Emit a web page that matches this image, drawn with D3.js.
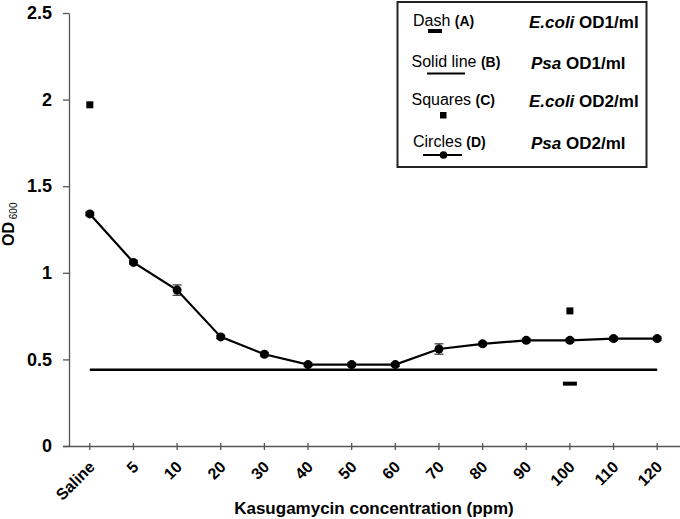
<!DOCTYPE html>
<html>
<head>
<meta charset="utf-8">
<script src="https://cdn.jsdelivr.net/npm/d3@7"></script>
<style>
  body { margin: 0; background: #fff; }
  svg { font-family: "Liberation Sans", Arial, sans-serif; }
</style>
</head>
<body>
<div id="chart"></div>
<script>
// categories on the x axis
var categories = ["Saline", "5", "10", "20", "30", "40", "50", "60", "70", "80", "90", "100", "110", "120"];
// Psa OD2/ml (circles, with error bars)
var psaOD2 = [1.34, 1.06, 0.90, 0.63, 0.53, 0.47, 0.47, 0.47, 0.56, 0.59, 0.61, 0.61, 0.62, 0.62];
var psaOD2Err = [0.01, 0.01, 0.03, 0.01, 0.01, 0.01, 0.01, 0.01, 0.03, 0.01, 0.01, 0.01, 0.01, 0.01];
// Psa OD1/ml (solid line)
var psaOD1 = [0.44, 0.44, 0.44, 0.44, 0.44, 0.44, 0.44, 0.44, 0.44, 0.44, 0.44, 0.44, 0.44, 0.44];
// E.coli OD2/ml (squares)
var ecoliOD2 = [{cat: "Saline", v: 1.97}, {cat: "100", v: 0.78}];
// E.coli OD1/ml (dash)
var ecoliOD1 = [{cat: "100", v: 0.36}];
var yTicks = [0, 0.5, 1, 1.5, 2, 2.5];

var legendRows = [
  {label: "Dash", key: "(A)", it: "E.coli", rest: " OD1/ml", sym: "dash"},
  {label: "Solid line", key: "(B)", it: "Psa", rest: " OD1/ml", sym: "line"},
  {label: "Squares", key: "(C)", it: "E.coli", rest: " OD2/ml", sym: "square"},
  {label: "Circles", key: "(D)", it: "Psa", rest: " OD2/ml", sym: "circle"}
];

var width = 680, height = 519;
var svg = d3.select("#chart").append("svg").attr("width", width).attr("height", height);

var xScale = d3.scaleBand().domain(categories).range([68, 679]);
var yScale = d3.scaleLinear().domain([0, 2.5]).range([446, 13]);
function cx(c) { return xScale(c) + xScale.bandwidth() / 2; }

var axisColor = "#555";

// y axis
var yAxisCall = d3.axisLeft(yScale).tickValues(yTicks).tickSize(6).tickSizeOuter(0)
  .tickFormat(function(d) { return d; });
var gy = svg.append("g").attr("transform", "translate(69,0)").call(yAxisCall);
gy.select(".domain").attr("stroke", axisColor).attr("stroke-width", 1.3);
gy.selectAll(".tick line").attr("stroke", axisColor).attr("stroke-width", 1.3);
gy.selectAll(".tick text").attr("x", -17).attr("font-size", 18).attr("font-weight", "bold")
  .attr("fill", "#000").attr("font-family", "Liberation Sans, Arial, sans-serif");

// x axis
var xAxisCall = d3.axisBottom(xScale).tickSize(4).tickSizeOuter(0);
var gx = svg.append("g").attr("transform", "translate(0,446)").call(xAxisCall);
gx.select(".domain").attr("stroke", axisColor).attr("stroke-width", 1.3)
  .attr("d", "M63,0.5H680");
gx.selectAll(".tick line").attr("stroke", axisColor).attr("stroke-width", 1.3).attr("y1", -3);
gx.selectAll(".tick text")
  .attr("font-size", 16).attr("font-weight", "bold").attr("fill", "#000")
  .attr("font-family", "Liberation Sans, Arial, sans-serif")
  .attr("text-anchor", "end").attr("y", 0).attr("dy", 0)
  .attr("transform", "translate(6,22) rotate(-45)");

// axis titles
svg.append("text")
  .attr("x", 374).attr("y", 514)
  .attr("text-anchor", "middle").attr("font-size", 17).attr("font-weight", "bold")
  .text("Kasugamycin concentration (ppm)");

var yt = svg.append("text").attr("transform", "translate(14,246) rotate(-90)");
yt.append("tspan").attr("font-size", 16).attr("font-weight", "bold").text("OD");
yt.append("tspan").attr("font-size", 10).attr("dy", 3).text(" 600");

// solid line (B)
var line = d3.line().x(function(d, i) { return cx(categories[i]); }).y(function(d) { return yScale(d); });
svg.append("path").datum(psaOD1).attr("d", line)
  .attr("fill", "none").attr("stroke", "#000").attr("stroke-width", 2.6);

// circles line (D)
svg.append("path").datum(psaOD2).attr("d", line)
  .attr("fill", "none").attr("stroke", "#000").attr("stroke-width", 2.2);

// error bars
var eb = svg.append("g").attr("stroke", "#333").attr("stroke-width", 1.2);
psaOD2.forEach(function(v, i) {
  var x = cx(categories[i]);
  var y1 = yScale(v - psaOD2Err[i]), y2 = yScale(v + psaOD2Err[i]);
  eb.append("line").attr("x1", x).attr("x2", x).attr("y1", y1).attr("y2", y2);
  eb.append("line").attr("x1", x - 4.5).attr("x2", x + 4.5).attr("y1", y1).attr("y2", y1);
  eb.append("line").attr("x1", x - 4.5).attr("x2", x + 4.5).attr("y1", y2).attr("y2", y2);
});

svg.selectAll(".dot").data(psaOD2).enter().append("circle")
  .attr("cx", function(d, i) { return cx(categories[i]); })
  .attr("cy", function(d) { return yScale(d); })
  .attr("r", 4.5).attr("fill", "#000");

// squares (C)
svg.selectAll(".sq").data(ecoliOD2).enter().append("rect")
  .attr("x", function(d) { return cx(d.cat) - 3.5; })
  .attr("y", function(d) { return yScale(d.v) - 3.5; })
  .attr("width", 7).attr("height", 7).attr("fill", "#000");

// dash (A)
svg.selectAll(".dash").data(ecoliOD1).enter().append("rect")
  .attr("x", function(d) { return cx(d.cat) - 7; })
  .attr("y", function(d) { return yScale(d.v) - 2; })
  .attr("width", 14).attr("height", 4).attr("fill", "#000");

// legend
var lg = svg.append("g");
lg.append("rect").attr("x", 397.5).attr("y", 2).attr("width", 249).attr("height", 165)
  .attr("fill", "#fff").attr("stroke", "#222").attr("stroke-width", 2);

var rowY = [26, 67, 105, 147];
legendRows.forEach(function(r, i) {
  var y = rowY[i];
  var t = lg.append("text").attr("x", i == 0 || i == 3 ? 413 : 411.5).attr("y", y);
  t.append("tspan").attr("font-size", 16).text(r.label + " ");
  t.append("tspan").attr("font-size", 14).attr("font-weight", "bold").text(r.key);

  var t2 = lg.append("text").attr("x", r.it == "Psa" ? 531 : 529).attr("y", y + 2)
    .attr("font-size", 17).attr("font-weight", "bold");
  t2.append("tspan").attr("font-style", "italic").text(r.it);
  t2.append("tspan").text(r.rest);

  if (r.sym == "dash") {
    lg.append("rect").attr("x", 428).attr("y", 29).attr("width", 14).attr("height", 4).attr("fill", "#000");
  } else if (r.sym == "line") {
    lg.append("line").attr("x1", 427).attr("x2", 465).attr("y1", 73.5).attr("y2", 73.5)
      .attr("stroke", "#000").attr("stroke-width", 2);
  } else if (r.sym == "square") {
    lg.append("rect").attr("x", 440).attr("y", 112).attr("width", 6.5).attr("height", 6.5).attr("fill", "#000");
  } else {
    lg.append("line").attr("x1", 423).attr("x2", 462).attr("y1", 155).attr("y2", 155)
      .attr("stroke", "#000").attr("stroke-width", 2);
    lg.append("circle").attr("cx", 443.5).attr("cy", 155).attr("r", 3.8).attr("fill", "#000");
  }
});
</script>
</body>
</html>
